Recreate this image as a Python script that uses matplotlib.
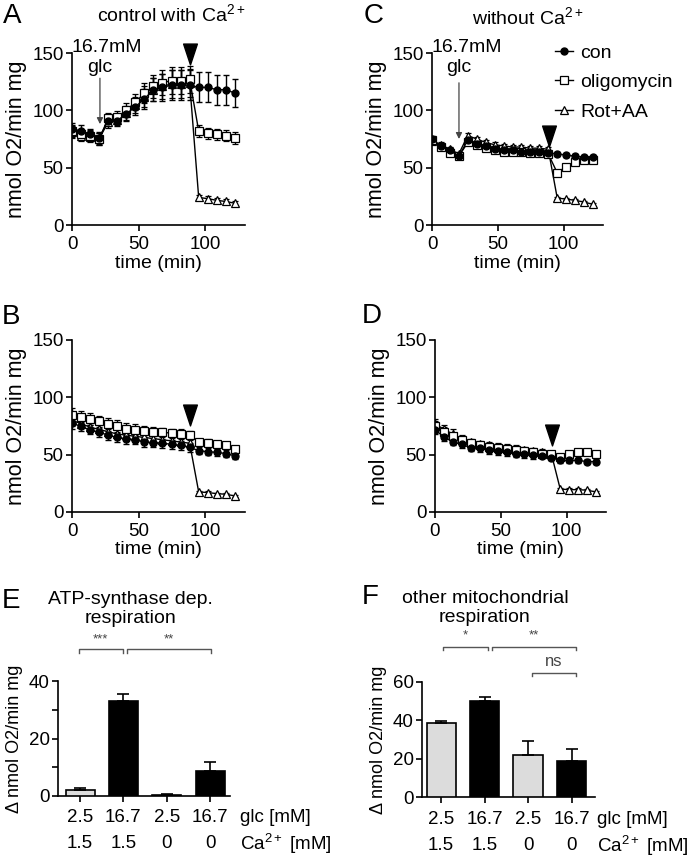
import matplotlib
matplotlib.use("Agg")
import matplotlib.pyplot as plt
import matplotlib.transforms as mtrans
from matplotlib.path import Path
from matplotlib.lines import Line2D
import numpy as np

plt.rcParams['font.family'] = ['Liberation Sans', 'DejaVu Sans']
plt.rcParams['mathtext.fontset'] = 'custom'
plt.rcParams['mathtext.rm'] = 'Liberation Sans'
plt.rcParams['mathtext.it'] = 'Liberation Sans:italic'
plt.rcParams['mathtext.bf'] = 'Liberation Sans:bold'

# ---------------- data ----------------
time = [0, 6.8, 13.6, 20.4, 27.2, 34.0, 40.8, 47.6, 54.4, 61.2, 68.0, 74.8, 81.6, 88.4,
        95.2, 102.0, 108.8, 115.6, 122.4]

A_con = [84, 82, 79, 76, 91, 91, 97, 103, 110, 118, 120, 122, 122, 122, 120, 120, 118, 118, 115]
A_oli = [82, 79, 78, 75, 93, 94, 100, 107, 115, 121, 124, 126, 126, 127, 82, 80, 79, 78, 76]
A_rot = [81, 78, 77, 75, 90, 92, 98, 105, 112, 118, 121, 123, 123, 124, 24, 23, 21.5, 20.5, 19]
A_con_err = [5, 5, 5, 5, 5, 5, 6, 7, 9, 10, 12, 13, 13, 13, 13, 13, 13, 13, 12]
A_oli_err = [5, 5, 5, 5, 5, 5, 6, 7, 9, 10, 11, 12, 12, 12, 5, 5, 5, 5, 5]
A_rot_err = [5, 5, 5, 5, 5, 5, 6, 7, 9, 10, 11, 12, 12, 12, 2, 2, 2, 2, 2]

B_con = [77.5, 74.6, 71.6, 69.6, 67, 65, 63.7, 63, 61, 60.5, 60, 59, 58, 56.4, 53.5, 52.6, 52, 51, 49]
B_oli = [85, 83, 81, 79, 77, 75, 72.5, 71.6, 71, 70, 69.6, 68.7, 68, 67, 61, 60.5, 59, 58, 54.7]
B_rot = [80, 77, 74, 72, 70, 68, 67, 66, 65, 64, 63, 62, 61, 60, 17.5, 17, 16, 15.5, 14]
B_con_err = [5, 4, 4, 4, 4, 4, 4, 4, 4, 4, 4, 4, 4, 4, 3, 3, 3, 3, 3]
B_oli_err = [6, 5, 5, 5, 5, 5, 5, 5, 4, 4, 4, 4, 4, 4, 3, 3, 3, 3, 3]
B_rot_err = [5, 4, 4, 4, 4, 4, 4, 4, 4, 4, 4, 4, 4, 4, 1, 1, 1, 1, 1]

C_con = [75, 69, 65, 60, 74, 71, 68.5, 66, 65.6, 65, 64, 64, 64, 63, 62, 61, 60, 59, 59]
C_oli = [74, 68, 63, 60, 72, 70, 67, 65, 64, 64, 64, 63, 63, 62, 45.5, 51, 55, 56.5, 56.5]
C_rot = [73, 70, 66, 62, 78, 75, 72, 70, 69, 68, 68, 67, 67, 66, 23.5, 22.6, 21.5, 20, 18]
C_con_err = [2.5, 2.5, 2, 2, 2, 2, 2, 2, 2, 2, 2, 2, 2, 2, 2, 2, 2, 2, 2]
C_oli_err = [2.5, 2.5, 2, 2, 2, 2, 2, 2, 2, 2, 2, 2, 2, 2, 2.5, 2, 2, 2, 2]
C_rot_err = [2.5, 2.5, 2, 2, 2.5, 2, 2, 2, 2, 2, 2, 2, 2, 2, 1, 1, 1, 1, 1]

D_con = [71.6, 65.6, 61, 59, 56, 55.4, 54, 53, 52, 51, 50.4, 49.6, 49, 47.5, 45, 45, 45, 44, 44]
D_oli = [75, 70, 66, 63, 60, 58, 57, 56, 55, 54, 53, 52, 51, 50.5, 48, 51, 52, 52, 51]
D_rot = [77, 72, 68, 64, 61, 59, 58, 57, 56, 55, 54, 53, 52, 51, 20, 19.5, 19.5, 19, 17.5]
D_con_err = [4, 4, 3, 3, 3, 3, 3, 3, 3, 3, 3, 3, 2, 2, 2, 2, 2, 2, 2]
D_oli_err = [4, 4, 3, 3, 3, 3, 3, 3, 3, 3, 3, 3, 2, 2, 2, 2, 2, 2, 2]
D_rot_err = [4, 4, 4, 3, 3, 3, 3, 3, 3, 3, 3, 3, 3, 2, 1, 1, 1, 1, 1]

series_names = ['con', 'oligomycin', 'Rot+AA']

bar_glc = ['2.5', '16.7', '2.5', '16.7']
bar_ca = ['1.5', '1.5', '0', '0']
E_vals = [2.0, 33.0, 0.4, 8.7]
E_err = [0.8, 2.5, 0.3, 3.0]
F_vals = [38.5, 50.0, 22.0, 19.0]
F_err = [1.0, 2.3, 7.0, 6.0]

# ---------------- figure ----------------
W, H = 693, 857
fig = plt.figure(figsize=(W / 100, H / 100), dpi=100)


def add_ax(l, r, t, b):
    return fig.add_axes([l / W, 1 - b / H, (r - l) / W, (b - t) / H])


def fx(px):
    return px / W


def fy(py):
    return 1 - py / H


TICK_FS = 13.5
down_tri = Path([(-0.33, 0.5), (0.33, 0.5), (0, -0.5), (-0.33, 0.5)],
                [Path.MOVETO, Path.LINETO, Path.LINETO, Path.CLOSEPOLY])


def style_axes(ax):
    for s in ['top', 'right']:
        ax.spines[s].set_visible(False)
    for s in ['left', 'bottom']:
        ax.spines[s].set_linewidth(1.2)
    ax.tick_params(direction='out', length=4, width=1.2, labelsize=TICK_FS, pad=2)


def time_panel(ax, con, oli, rot, ce, oe, re_, inj_y):
    style_axes(ax)
    ax.tick_params(axis='x', pad=4)
    kw = dict(color='black', lw=1.0, capsize=2.2, elinewidth=1.0, capthick=1.0)
    ax.errorbar(time, rot, yerr=re_, marker='^', ms=5.5, mfc='white', mec='black',
                mew=0.9, **kw)
    ax.errorbar(time, oli, yerr=oe, marker='s', ms=5.5, mfc='white', mec='black',
                mew=0.9, **kw)
    ax.errorbar(time, con, yerr=ce, marker='o', ms=5, mfc='black', mec='black', **kw)
    ax.set_xlim(0, 130)
    ax.set_ylim(0, 150)
    ax.set_xticks([0, 50, 100])
    ax.set_yticks([0, 50, 100, 150])
    ax.set_xlabel('time (min)', fontsize=14, labelpad=1)
    ax.set_ylabel('nmol O2/min mg', fontsize=15.5, labelpad=4)
    ax.plot([88.6], [inj_y], marker=down_tri, ms=15, color='black', mec='black',
            ls='none', clip_on=False, zorder=10)


axA = add_ax(72, 245, 53, 225)
time_panel(axA, A_con, A_oli, A_rot, A_con_err, A_oli_err, A_rot_err, 149)
axB = add_ax(72, 245, 340, 512)
time_panel(axB, B_con, B_oli, B_rot, B_con_err, B_oli_err, B_rot_err, 85)
axC = add_ax(432, 603, 53, 225)
time_panel(axC, C_con, C_oli, C_rot, C_con_err, C_oli_err, C_rot_err, 78)
axD = add_ax(435, 606, 340, 512)
time_panel(axD, D_con, D_oli, D_rot, D_con_err, D_oli_err, D_rot_err, 67)

# glucose annotations
for ax, x_arrow, y0, y1, xt in [(axA, 21, 128, 88, 26), (axC, 20.5, 124, 75, 26.5)]:
    ax.annotate('', xy=(x_arrow, y1), xytext=(x_arrow, y0),
                arrowprops=dict(arrowstyle='-|>', color='#444444', lw=0.9,
                                mutation_scale=9, shrinkA=0, shrinkB=0),
                annotation_clip=False)
    ax.text(xt, 155, '16.7mM', ha='center', va='center', fontsize=14, clip_on=False)
    ax.text(x_arrow, 137, 'glc', ha='center', va='center', fontsize=14, clip_on=False)

# legend in C
leg_handles = [
    Line2D([], [], color='black', lw=1.0, marker='o', ms=5, mfc='black', mec='black'),
    Line2D([], [], color='black', lw=1.0, marker='s', ms=5.5, mfc='white', mec='black', mew=0.9),
    Line2D([], [], color='black', lw=1.0, marker='^', ms=5.5, mfc='white', mec='black', mew=0.9),
]
axC.legend(leg_handles, series_names,
           loc='upper left', bbox_to_anchor=(fx(555), fy(44)),
           bbox_transform=fig.transFigure, frameon=False, fontsize=14,
           handlelength=0.9, handletextpad=0.4, labelspacing=0.62,
           borderaxespad=0, borderpad=0)

# ---------------- bar panels ----------------
bar_colors = ['#dcdcdc', 'black', '#dcdcdc', 'black']
xpos = np.arange(4)


def bar_panel(ax, vals, errs, ylim, yticks, yticklabels, glc_y, ca_y, lab_x):
    style_axes(ax)
    ax.bar(xpos, vals, width=0.67, color=bar_colors, edgecolor='black', lw=1.2,
           yerr=[[0] * 4, errs], capsize=4,
           error_kw=dict(elinewidth=1.2, capthick=1.2, ecolor='black'), zorder=3)
    ax.set_ylim(*ylim)
    ax.set_yticks(yticks)
    ax.set_yticklabels(yticklabels)
    ax.set_xticks(xpos)
    ax.set_xticklabels([])
    ax.set_ylabel('Δ nmol O2/min mg', fontsize=13, labelpad=4)
    tr = mtrans.blended_transform_factory(ax.transData, fig.transFigure)
    for i in range(4):
        fig.text(xpos[i], fy(glc_y), bar_glc[i], transform=tr, ha='center',
                 va='center', fontsize=13.5)
        fig.text(xpos[i], fy(ca_y), bar_ca[i], transform=tr, ha='center',
                 va='center', fontsize=13.5)
    fig.text(fx(lab_x), fy(glc_y), 'glc [mM]', ha='left', va='center', fontsize=13.5)
    fig.text(fx(lab_x), fy(ca_y), 'Ca$^{2+}$ [mM]', ha='left', va='center', fontsize=13.5)


def bracket(ax, x0, x1, y, dy, label, ty, fs=9.5):
    ax.plot([x0, x0, x1, x1], [y - dy, y, y, y - dy], color='#555555', lw=1.0,
            clip_on=False)
    ax.text((x0 + x1) / 2, ty, label, ha='center', va='center', fontsize=fs,
            color='#444444', clip_on=False)


axE = add_ax(58, 230, 681, 796)
axE.set_xlim(-0.51, 3.46)
bar_panel(axE, E_vals, E_err, (0, 40), [0, 10, 20, 30, 40], ['0', '', '20', '', '40'],
          818, 844, 240)
bracket(axE, -0.03, 0.99, 51.1, 1.2, '***', 54.5)
bracket(axE, 1.09, 3.03, 51.1, 1.2, '**', 54.5)

axF = add_ax(422, 595, 682, 797)
axF.set_xlim(-0.44, 3.54)
bar_panel(axF, F_vals, F_err, (0, 60), [0, 20, 40, 60], ['0', '20', '40', '60'],
          819, 846, 597)
bracket(axF, 0.05, 1.07, 78.3, 1.8, '*', 84.5)
bracket(axF, 1.17, 3.1, 78.3, 1.8, '**', 84.5)
bracket(axF, 2.09, 3.1, 64.7, 1.8, 'ns', 70.5, fs=12)

# ---------------- titles & panel letters ----------------
fig.text(fx(171), fy(14), 'control with Ca$^{2+}$', ha='center', va='center', fontsize=14)
fig.text(fx(528), fy(17), 'without Ca$^{2+}$', ha='center', va='center', fontsize=14)
fig.text(fx(130), fy(609), 'ATP-synthase dep.\nrespiration', ha='center', va='center',
         fontsize=14, linespacing=1.15)
fig.text(fx(485), fy(608), 'other mitochondrial\nrespiration', ha='center', va='center',
         fontsize=14, linespacing=1.15)

for letter, x, y in [('A', 12, 16), ('C', 374, 16), ('B', 11, 317), ('D', 372, 316),
                     ('E', 11, 601), ('F', 370, 597)]:
    fig.text(fx(x), fy(y), letter, ha='center', va='center', fontsize=20)

fig.savefig('out.png', dpi=100)
